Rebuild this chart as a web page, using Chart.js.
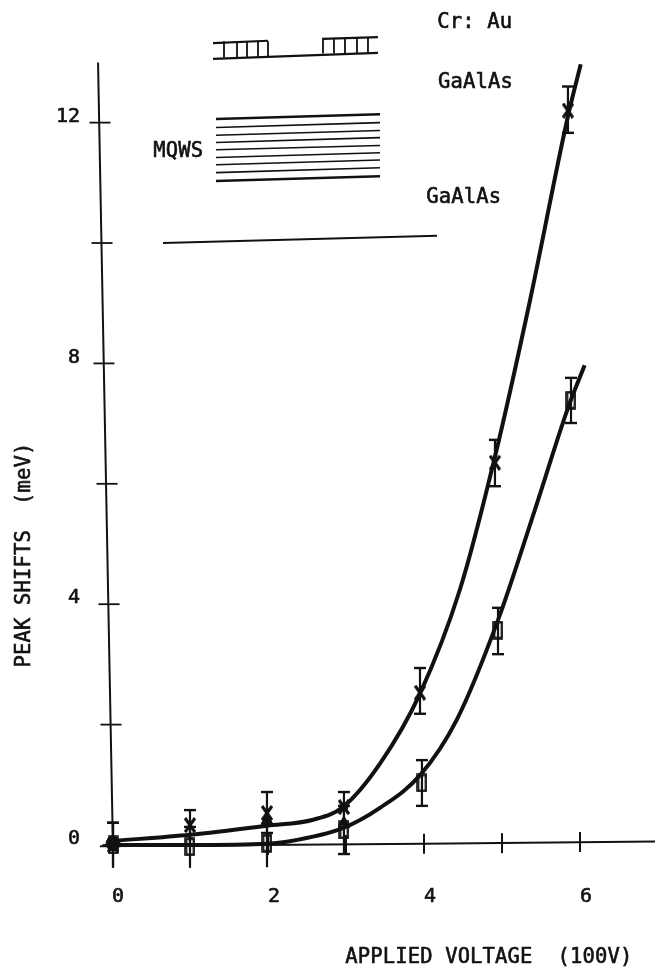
<!DOCTYPE html>
<html><head><meta charset="utf-8">
<style>html,body{margin:0;padding:0;background:#fff}canvas{display:block}</style>
<script src="https://cdn.jsdelivr.net/npm/chart.js@4"></script></head>
<body><canvas id="c" width="655" height="968"></canvas>
<script>
const INK = '#111111';
// fitted curves [x, y]
const curveA = [[0.04,0.07],[1,0.17],[1.99,0.32],[2.58,0.42],[2.96,0.63],[3.44,1.36],[3.95,2.52],[4.46,4.24],[4.91,6.45],[5.36,9.05],[5.85,12.13],[6.01,12.97]];
const curveB = [[0,0],[1,0],[1.99,0.02],[2.22,0.05],[2.96,0.28],[3.44,0.62],[3.95,1.16],[4.42,2.08],[4.95,3.74],[5.42,5.56],[5.86,7.31],[6.06,7.97]];
// measured points
const xA = [0.013,1,1.987,2.974,3.949,4.91,5.846];
const yA = [0,0.33,0.53,0.63,2.53,6.35,12.2];
const hiA = [0.37,0.58,0.88,0.88,2.94,6.73,12.6];
const loA = [-0.37,0,0.2,0.3,2.18,5.96,11.83];
const xB = [0.013,1,1.987,2.974,3.974,4.949,5.885];
const yB = [0,-0.03,0.03,0.25,1.03,3.57,7.39];
const hiB = [0.37,0.3,0.35,0.65,1.41,3.94,7.76];
const loB = [-0.38,-0.38,-0.37,-0.15,0.65,3.17,7.01];
const xTri = [1.987,2.974];
const yTri = [0.42,0.38];
const xDot = [0.013,2.974];
const yDot = [0.02,0.63];
// axes
const yTickVals = [0,2,4,6,8,10,12];
const yAxisPos = [0.013,-0.013,-0.038,-0.064,-0.103,-0.128,-0.154];
const xTickVals = [1,2,3,4,5,6];
const xAxisLevel = [0.0,0.0,0.0,0.02,0.03,0.05];
const yAxisLine = [[0.013,-0.1],[-0.179,13.0]];
const xAxisLine = [[-0.154,-0.02],[4,0.02],[7,0.06]];
// device sketch
const contactUpper = [[1.295,13.32],[2,13.36],null,[2.705,13.39],[3.41,13.42]];
const contactLower = [[1.295,13.06],[3.41,13.16]];
const teethLeft = [1.436,1.603,1.731,1.872,2];
const teethRight = [2.705,2.846,2.987,3.141,3.282];
const wellX = [1.333,3.436];
const wellLeft  = [12.06,11.92,11.79,11.67,11.55,11.42,11.30,11.17,11.03];
const wellRight = [12.14,12.00,11.87,11.75,11.62,11.50,11.38,11.25,11.11];
const substrate = [[0.654,10.0],[4.167,10.12]];
// labels
const notes = [['Cr: Au',4.17,13.66],['GaAlAs',4.18,12.66],['MQWS',0.53,11.51],['GaAlAs',4.03,10.75]];
const yTitle = 'PEAK SHIFTS  (meV)';
const xTitle = 'APPLIED VOLTAGE  (100V)';
const xTicksShown = 2, yTicksShown = 4;

const pts = a => a.map(p => p ? {x:p[0],y:p[1]} : {x:null,y:null});
const lineDs = (data,w) => ({type:'scatter',showLine:true,data,borderColor:INK,borderWidth:w,pointRadius:0,tension:0,clip:false,spanGaps:false});

function sprite(w,h,draw){const c=document.createElement('canvas');c.width=w;c.height=h;const g=c.getContext('2d');g.strokeStyle=INK;g.lineWidth=2.6;draw(g);return c;}
const narrowSquare = sprite(11,19,g=>g.strokeRect(1.5,1.5,8,16));
const narrowCross = sprite(12,16,g=>{g.lineWidth=3.2;g.beginPath();g.moveTo(1,1);g.lineTo(11,15);g.moveTo(11,1);g.lineTo(1,15);g.stroke();});

const datasets = [];
// axes
datasets.push(lineDs(pts(yAxisLine),2));
datasets.push(lineDs(pts(xAxisLine),2));
datasets.push({type:'scatter',data:yTickVals.map((v,i)=>({x:yAxisPos[i],y:v})),pointStyle:'line',pointRadius:10.5,pointBorderWidth:1.8,pointBorderColor:INK,showLine:false,clip:false});
datasets.push({type:'scatter',data:xTickVals.map((v,i)=>({x:v,y:xAxisLevel[i]})),pointStyle:'line',pointRotation:90,pointRadius:10,pointBorderWidth:2,pointBorderColor:INK,showLine:false,clip:false});
// error bars
function bars(xs,hi,lo){xs.forEach((x,i)=>datasets.push({type:'scatter',showLine:true,data:[{x,y:lo[i]},{x,y:hi[i]}],borderColor:INK,borderWidth:2.2,pointStyle:'line',pointRadius:6,pointBorderWidth:2.4,pointBorderColor:INK,clip:false}));}
bars(xA,hiA,loA);bars(xB,hiB,loB);
// curves
datasets.push({...lineDs(pts(curveA),4),tension:0.4,cubicInterpolationMode:'monotone'});
datasets.push({...lineDs(pts(curveB),4),tension:0.4,cubicInterpolationMode:'monotone'});
// markers
datasets.push({type:'scatter',data:xA.map((x,i)=>({x,y:yA[i]})),pointStyle:narrowCross,pointRadius:6,showLine:false,clip:false});
datasets.push({type:'scatter',data:xB.map((x,i)=>({x,y:yB[i]})),pointStyle:narrowSquare,pointRadius:6,showLine:false,clip:false});
datasets.push({type:'scatter',data:xTri.map((x,i)=>({x,y:yTri[i]})),pointStyle:'triangle',pointRadius:6,pointBackgroundColor:INK,pointBorderColor:INK,showLine:false,clip:false});
datasets.push({type:'scatter',data:xDot.map((x,i)=>({x,y:yDot[i]})),pointStyle:'circle',pointRadius:[7,4],pointBackgroundColor:INK,pointBorderColor:INK,showLine:false,clip:false});
// device sketch
datasets.push(lineDs(pts(contactUpper),2.2));
datasets.push(lineDs(pts(contactLower),2.2));
[...teethLeft.map(x=>[x,13.35,13.08]),...teethRight.map(x=>[x,13.41,13.15])].forEach(t=>datasets.push(lineDs(pts([[t[0],t[1]],[t[0],t[2]]]),1.8)));
wellLeft.forEach((l,i)=>datasets.push(lineDs(pts([[wellX[0],l],[wellX[1],wellRight[i]]]),(i===0||i===wellLeft.length-1)?2.6:1.6)));
datasets.push(lineDs(pts(substrate),2));

const textPlugin = {id:'text',afterDatasetsDraw(ch){
  const g=ch.ctx,sx=ch.scales.x,sy=ch.scales.y;
  g.save();g.fillStyle=INK;g.strokeStyle=INK;g.lineWidth=0.6;g.textBaseline='middle';
  g.font='20.5px "DejaVu Sans Mono"';g.letterSpacing='0.15px';
  const put=(t,x,y)=>{g.fillText(t,x,y);g.strokeText(t,x,y);};
  g.textAlign='left';
  notes.forEach(n=>put(n[0],sx.getPixelForValue(n[1]),sy.getPixelForValue(n[2])));
  put(xTitle,sx.getPixelForValue(2.99),sy.getPixelForValue(-1.87));
  g.translate(sx.getPixelForValue(-1.13)+1,sy.getPixelForValue(2.95));
  g.rotate(-Math.PI/2);
  put(yTitle,0,0);
  g.restore();
}};

const tickFont = {family:'"DejaVu Sans Mono"',size:20};
new Chart(document.getElementById('c'),{
  type:'scatter',
  data:{datasets},
  plugins:[textPlugin],
  options:{
    responsive:false,animation:false,
    layout:{padding:0,autoPadding:false},
    elements:{point:{radius:0}},
    plugins:{legend:{display:false},tooltip:{enabled:false}},
    scales:{
      x:{type:'linear',min:-0.359,max:6.962,border:{display:false},grid:{display:false,drawTicks:false},
        afterFit(s){s.height=110;s.paddingLeft=0;s.paddingRight=0;},
        ticks:{stepSize:xTicksShown,includeBounds:false,padding:27,labelOffset:6,maxRotation:0,color:INK,textStrokeColor:INK,textStrokeWidth:0.6,font:tickFont,callback:v=>v>=0&&v<=6?String(v):''}},
      y:{type:'linear',min:-0.216,max:14.037,border:{display:false},grid:{display:false,drawTicks:false},
        afterFit(s){s.width=84;s.paddingTop=0;s.paddingBottom=0;},
        ticks:{stepSize:yTicksShown,includeBounds:false,padding:4,labelOffset:-6,color:INK,textStrokeColor:INK,textStrokeWidth:0.6,font:tickFont,callback:v=>v>=0?String(v):''}}
    }
  }
});
</script></body></html>
